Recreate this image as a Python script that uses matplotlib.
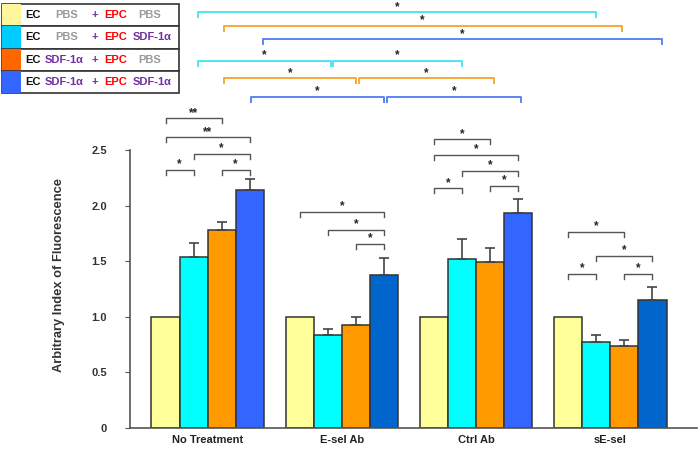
import numpy as np
import matplotlib
matplotlib.use('Agg')
import matplotlib.pyplot as plt
from matplotlib.patches import Rectangle

plt.rcParams['font.family'] = ['Liberation Sans', 'DejaVu Sans']

# Data
groups = ['No Treatment', 'E-sel Ab', 'Ctrl Ab', 'sE-sel']
means = np.array([
    [1.00, 1.54, 1.78, 2.14],
    [1.00, 0.84, 0.93, 1.38],
    [1.00, 1.52, 1.49, 1.93],
    [1.00, 0.77, 0.74, 1.15],
])
errs = np.array([
    [0.00, 0.12, 0.07, 0.10],
    [0.00, 0.05, 0.07, 0.15],
    [0.00, 0.18, 0.13, 0.13],
    [0.00, 0.07, 0.05, 0.12],
])
bar_colors = ['#FFFF99', '#00FFFF', '#FF9900']
blue_per_group = ['#3366FF', '#0066CC', '#3366FF', '#0066CC']

# in-group brackets: group, bar a, bar b, height, label
inner_brackets = [
    (0, 0, 1, 2.32, '*'),
    (0, 2, 3, 2.32, '*'),
    (0, 1, 3, 2.464, '*'),
    (0, 0, 3, 2.614, '**'),
    (0, 0, 2, 2.785, '**'),
    (1, 0, 3, 1.945, '*'),
    (1, 1, 3, 1.78, '*'),
    (1, 2, 3, 1.655, '*'),
    (2, 0, 2, 2.596, '*'),
    (2, 0, 3, 2.455, '*'),
    (2, 1, 3, 2.311, '*'),
    (2, 0, 1, 2.155, '*'),
    (2, 2, 3, 2.176, '*'),
    (3, 0, 2, 1.765, '*'),
    (3, 1, 3, 1.547, '*'),
    (3, 0, 1, 1.385, '*'),
    (3, 2, 3, 1.385, '*'),
]
# cross-group brackets: bar, group a, group b, height, shift a, shift b
cross_brackets = [
    (1, 0, 3, 3.738, 0.03, 0.0),
    (2, 0, 3, 3.615, 0.015, -0.02),
    (3, 0, 3, 3.495, 0.10, 0.07),
    (1, 0, 1, 3.30, 0.03, 0.02),
    (1, 1, 2, 3.30, 0.035, 0.0),
    (2, 0, 1, 3.145, 0.015, 0.0),
    (2, 1, 2, 3.145, 0.02, 0.03),
    (3, 0, 1, 2.98, 0.01, 0.0),
    (3, 1, 2, 2.98, 0.02, 0.02),
]
cross_colors = {1: '#4FE6F2', 2: '#F7A93A', 3: '#5A85F5'}

w = 0.209
x = np.arange(len(groups))

fig = plt.figure(figsize=(7, 4.5), dpi=100)
ax = fig.add_axes([130 / 700, 22 / 450, 567 / 700, 428 / 450])

def bar_x(g, i):
    return x[g] + (i - 1.5) * w

for i in range(4):
    cols = [blue_per_group[g] if i == 3 else bar_colors[i] for g in range(4)]
    ax.bar(x + (i - 1.5) * w, means[:, i], width=w, color=cols,
           edgecolor='#333333', linewidth=1.1, zorder=2)
    has_err = errs[:, i] > 0
    if has_err.any():
        xe = (x + (i - 1.5) * w)[has_err]
        ax.errorbar(xe, means[has_err, i],
                    yerr=[np.zeros(has_err.sum()), errs[has_err, i]],
                    fmt='none', ecolor='#444444', elinewidth=1.2,
                    capsize=3.4, capthick=1.2, zorder=3)

tick = 0.045
star_kw = dict(ha='center', va='center', fontsize=8.5, fontweight='bold',
               color='#222222', clip_on=False)
for g, a, b, h, lab in inner_brackets:
    xa, xb = bar_x(g, a), bar_x(g, b)
    ax.plot([xa, xa, xb, xb], [h - tick, h, h, h - tick],
            color='#555555', lw=1.0, clip_on=False)
    ax.text((xa + xb) / 2, h + 0.05, lab, **star_kw)

for i, ga, gb, h, sa, sb in cross_brackets:
    xa, xb = bar_x(ga, i) + sa, bar_x(gb, i) + sb
    ax.plot([xa, xa, xb, xb], [h - tick, h, h, h - tick],
            color=cross_colors[i], lw=1.4, clip_on=False)
    ax.text((xa + xb) / 2, h + 0.05, '*', **star_kw)

ax.set_xlim(-0.578, 3.645)
ax.set_ylim(0, 3.849)
for s in ['top', 'right']:
    ax.spines[s].set_visible(False)
ax.spines['left'].set_bounds(0, 2.5)
ax.spines['left'].set_color('#555555')
ax.spines['bottom'].set_color('#555555')
ax.spines['left'].set_linewidth(1.2)
ax.spines['bottom'].set_linewidth(1.2)
ax.set_yticks([0, 0.5, 1.0, 1.5, 2.0, 2.5])
ax.set_yticklabels(['0', '0.5', '1.0', '1.5', '2.0', '2.5'],
                   fontsize=8, fontweight='bold', color='#333333')
ax.tick_params(axis='y', length=3.6, color='#555555', pad=13)
ax.set_xticks(x)
ax.set_xticklabels(groups, fontsize=8, fontweight='bold', color='#222222')
ax.tick_params(axis='x', length=0, pad=5)
ax.set_ylabel('Arbitrary Index of Fluorescence', fontsize=9.3,
              fontweight='bold', color='#333333')
ax.yaxis.set_label_coords(-0.115, 0.357)

# legend table drawn in pixel coordinates
lg = fig.add_axes([0, 0, 1, 1], zorder=5)
lg.set_xlim(0, 700)
lg.set_ylim(450, 0)
lg.axis('off')
legend_swatches = ['#FFF59D', '#00CCFF', '#FF6600', '#3366FF']
ec_treat = ['PBS', 'PBS', 'SDF-1α', 'SDF-1α']
epc_treat = ['PBS', 'SDF-1α', 'PBS', 'SDF-1α']
purple = '#7030A0'
grey = '#999999'
row_top = 4
row_h = 22.3
for r in range(4):
    y0 = row_top + r * row_h
    lg.add_patch(Rectangle((2, y0), 177, row_h, facecolor='white',
                           edgecolor='#333333', lw=1.2))
    lg.add_patch(Rectangle((2, y0), 19, row_h, facecolor=legend_swatches[r],
                           edgecolor='none'))
    yc = y0 + row_h / 2
    kw = dict(va='center', fontsize=8, fontweight='bold')
    lg.text(25, yc, 'EC', color='#111111', **kw)
    if ec_treat[r] == 'PBS':
        lg.text(55, yc, 'PBS', color=grey, **kw)
    else:
        lg.text(45, yc, 'SDF-1α', color=purple, **kw)
    lg.text(92, yc, '+', color=purple, **kw)
    lg.text(104, yc, 'EPC', color='#FF0000', **kw)
    if epc_treat[r] == 'PBS':
        lg.text(138, yc, 'PBS', color=grey, **kw)
    else:
        lg.text(133, yc, 'SDF-1α', color=purple, **kw)

fig.savefig('out.png', dpi=100)
